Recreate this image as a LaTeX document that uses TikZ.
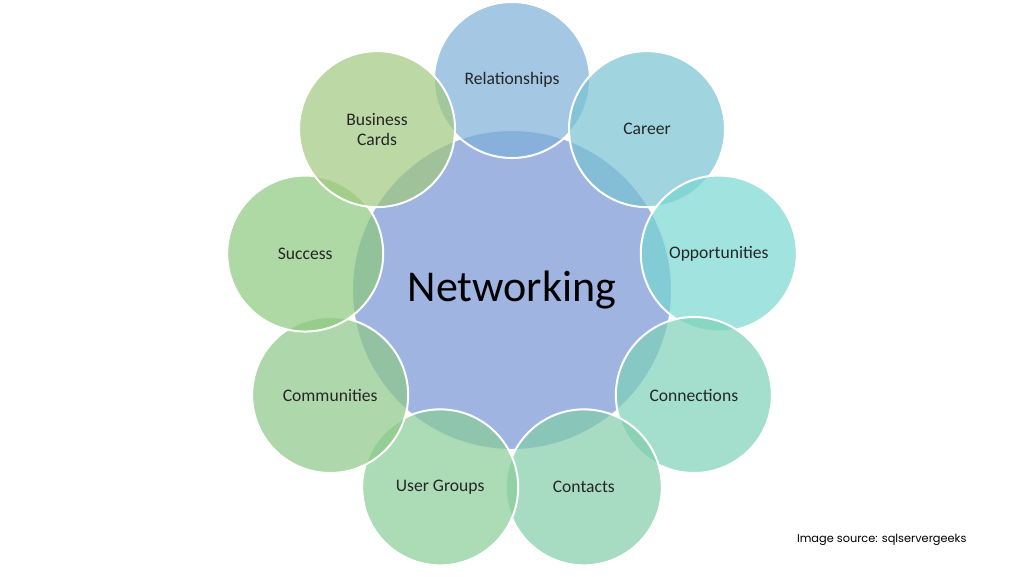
\documentclass[tikz,border=0pt]{standalone}
\usepackage{fontspec}
\setmainfont{Carlito}
\newfontfamily\srcfont[FontFace={m}{n}{Poppins Medium}]{Poppins}
\usetikzlibrary{positioning}
\definecolor{hubblue}{RGB}{128,155,215}
\definecolor{cRel}{RGB}{125,175,215}
\definecolor{cCar}{RGB}{120,195,210}
\definecolor{cOpp}{RGB}{120,215,210}
\definecolor{cCon}{RGB}{125,210,185}
\definecolor{cCts}{RGB}{130,205,170}
\definecolor{cUsr}{RGB}{135,205,150}
\definecolor{cCom}{RGB}{140,200,135}
\definecolor{cSuc}{RGB}{140,200,125}
\definecolor{cBiz}{RGB}{160,200,125}
\tikzset{
  networkpic/.style={x=0.75pt,y=-0.75pt,inner sep=0pt,outer sep=0pt}
  ,hub/.style={circle,draw=white,line width=1.5pt,fill=hubblue,fill opacity=.75,
    text opacity=1,minimum size=240pt,text=black}
  ,petal/.style={circle,draw=white,line width=1.5pt,fill opacity=.7,
    text opacity=1,minimum size=117pt,align=center,
    font=\fontsize{13.2}{15}\selectfont,text=black!85}
  ,source/.style={font=\srcfont\fontsize{8.5}{10}\selectfont,anchor=west}
}
\begin{document}
\begin{tikzpicture}[networkpic]
  \useasboundingbox (0,0) rectangle (1024,576);
  % hub
  \node[hub] (net) at (512,290) {};
  % petals around the hub
  \foreach \a/\nm/\col/\txt in {90/rel/cRel/Relationships,50/car/cCar/Career,
      10/opp/cOpp/Opportunities,-30/con/cCon/Connections,-70/cts/cCts/Contacts,
      -110/usr/cUsr/User Groups,-150/com/cCom/Communities,170/suc/cSuc/Success,
      130/biz/cBiz/Business\\Cards}{
    \node[petal,fill=\col] (\nm) at ({512+210*cos(\a)},{290-210*sin(\a)}) {\txt};
  }
  \node[font=\fontsize{33}{38}\selectfont] (nettxt) at (net) {Networking};
  \node[source] (src) at (797,540) {Image source: sqlservergeeks};
\end{tikzpicture}
\end{document}
